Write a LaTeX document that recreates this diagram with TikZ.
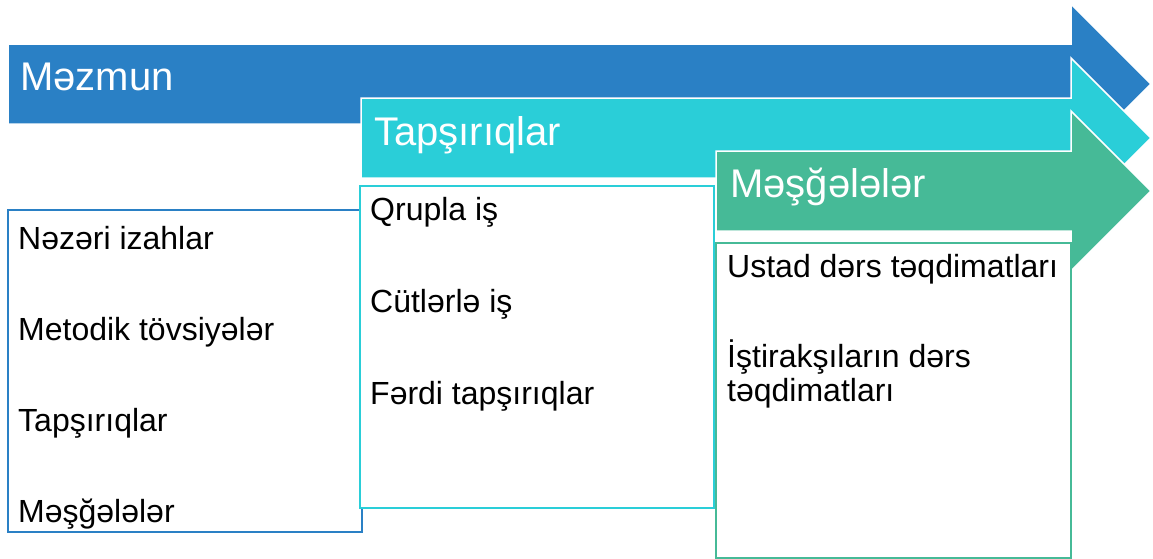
\documentclass[tikz,border=0pt]{standalone}
\usepackage{fontspec}
\setmainfont{Liberation Sans}
\usetikzlibrary{positioning}
\definecolor{MezmunColor}{HTML}{2A80C5}
\definecolor{TapsColor}{HTML}{2ACED8}
\definecolor{MesgColor}{HTML}{46BA97}
\newcommand{\HeadX}{1071}
\newcommand{\TipX}{1151}
\newcommand{\PlaceArrow}[3]{%
  % #1 left x, #2 centre y, #3 fill color
  \fill[#3,draw=white,line width=1.5pt] (#1,#2-40) -- (\HeadX,#2-40) -- (\HeadX,#2-80)
    -- (\TipX,#2) -- (\HeadX,#2+80) -- (\HeadX,#2+40) -- (#1,#2+40) -- cycle;
}

\begin{document}
\begin{tikzpicture}[
  x=1pt,y=-1pt,
  title/.style={anchor=base west,inner sep=0pt,text=white,font=\fontsize{40}{44}\selectfont},
  item/.style={anchor=base west,inner sep=0pt,align=left,font=\fontsize{32}{34}\selectfont},
  panel/.style={anchor=north west,draw=#1,fill=white,line width=2.2pt,inner sep=0pt}
]
\useasboundingbox (0,0) rectangle (1153,558);

% Arrows
\PlaceArrow{8}{84}{MezmunColor}
\PlaceArrow{361}{138}{TapsColor}
\PlaceArrow{716}{191}{MesgColor}

% Arrow titles
\node[title] (t1) at (20,90) {Məzmun};
\node[title] (t2) at (374,145) {Tapşırıqlar};
\node[title] (t3) at (730,197) {Məşğələlər};

% Panels
\node[panel=MezmunColor,minimum width=354pt,minimum height=322pt] (p1) at (7,209) {};
\node[panel=TapsColor,minimum width=354pt,minimum height=322pt] (p2) at (359,185) {};
\node[panel=MesgColor,minimum width=355pt,minimum height=315pt] (p3) at (715,242) {};

% Panel items
\node[item] (a1) at (18,249) {Nəzəri izahlar};
\node[item] (a2) at (18,340) {Metodik tövsiyələr};
\node[item] (a3) at (18,431) {Tapşırıqlar};
\node[item] (a4) at (18,522) {Məşğələlər};

\node[item] (b1) at (370,220) {Qrupla iş};
\node[item] (b2) at (370,312) {Cütlərlə iş};
\node[item] (b3) at (370,404) {Fərdi tapşırıqlar};

\node[item] (c1) at (727,277) {Ustad dərs təqdimatları};
\node[item] (c2) at (727,401) {İştirakşıların dərs\\təqdimatları};

\end{tikzpicture}
\end{document}
